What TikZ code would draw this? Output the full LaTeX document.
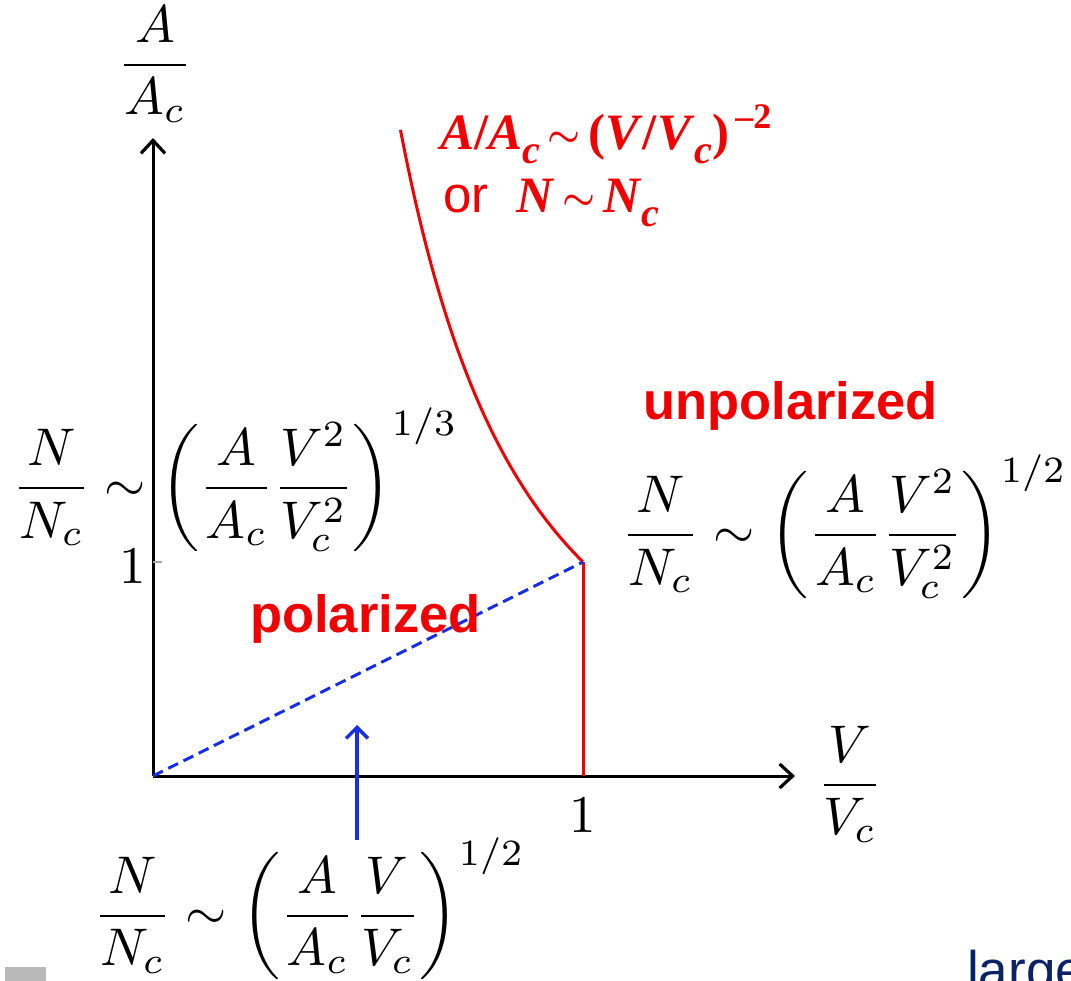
\documentclass[tikz,border=0pt]{standalone}
\usepackage{fontspec}
\usepackage{graphicx}
\usetikzlibrary{arrows.meta}
\newfontfamily\tnr{Liberation Serif}
\newfontfamily\arial{Liberation Sans}
\definecolor{myred}{RGB}{240,0,0}
\definecolor{myblue}{RGB}{25,45,225}
\definecolor{navy}{RGB}{10,35,100}
\newcommand{\subc}{\raisebox{-0.26em}{\fontsize{40}{40}\selectfont\textit{c}}}
\newcommand{\bigsim}{\hspace{0.15em}\raisebox{3pt}{\resizebox{33pt}{!}{$\boldsymbol{\sim}$}}\hspace{0.15em}}
\usepackage{amsmath}
\tikzset{
  axis/.style={line width=3pt,-{Straight Barb[length=13pt,width=24pt,line width=3.2pt]}},
  mathlbl/.style={scale=5.3,inner sep=0pt},
  redlbl/.style={text=myred,inner sep=0pt,font=\arial\bfseries\fontsize{52.5}{60}\selectfont},
  redline/.style={myred,line width=3pt},
  curvelbl/.style={anchor=base west,inner sep=0pt,text=myred,font=\tnr\bfseries\fontsize{51}{56}\selectfont},
}
\begin{document}
\begin{tikzpicture}[x=1pt,y=-1pt]
\useasboundingbox (0,0) rectangle (1071,981);
% key points
\coordinate (O) at (153,776);
\coordinate (ytip) at (153,138);
\coordinate (xtip) at (795,776);
\coordinate (P) at (583,562);
\coordinate (X1) at (583,776);
\coordinate (Y1) at (153,562);
\coordinate (Y1t) at (162,562);
\coordinate (barrS) at (357,840);
\coordinate (barrE) at (357,725);
% axes
\draw[axis] (O) -- (ytip);
\draw[axis] (O) -- (xtip);
\draw[gray!70,line width=1.5pt] (Y1) -- (Y1t);
% curves
\draw[redline] plot[domain=0.5755:1,samples=80,smooth] ({153+430*\x},{776-214/(\x*\x)});
\draw[redline] (P) -- (X1);
\draw[myblue,line width=3pt,dash pattern=on 11pt off 6pt] (O) -- (P);
\draw[myblue,line width=4pt,-{Straight Barb[length=11pt,width=22pt,line width=3.5pt]}] (barrS) -- (barrE);
% axis labels
\node[mathlbl] (alab) at (155,64) {$\displaystyle\frac{A}{A_c}$};
\node[mathlbl] (vlab) at (850,784) {$\displaystyle\frac{V}{V_c}$};
\node[mathlbl,anchor=east] (one-y) at (147,566) {$1$};
\node[mathlbl] (one-x) at (583,815) {$1$};
% formulas
\node[mathlbl,anchor=west] (fl) at (12,480) {$\displaystyle\frac{N}{N_c}\sim\left(\frac{A}{A_c}\frac{V^2}{V_c^2}\right)^{1/3}$};
\node[mathlbl,anchor=west] (fr) at (621,527) {$\displaystyle\frac{N}{N_c}\sim\left(\frac{A}{A_c}\frac{V^2}{V_c^2}\right)^{1/2}$};
\node[mathlbl,anchor=west] (fb) at (93,909) {$\displaystyle\frac{N}{N_c}\sim\left(\frac{A}{A_c}\frac{V}{V_c}\right)^{1/2}$};
% region labels
\node[redlbl,anchor=base west] (pol) at (250,632) {polarized};
\node[redlbl,anchor=base west] (unpol) at (643,420) {unpolarized};
% red curve label
\node[curvelbl] (lab1) at (440,150)
  {\textit{A}/\textit{A}\subc\bigsim(\textit{V}/\textit{V}\subc)\raisebox{0.42em}{\fontsize{36}{36}\selectfont\,\textendash2}};
\node[curvelbl] (lab2) at (443,213)
  {{\arial\mdseries or}\hspace{0.55em}\textit{N}\bigsim\textit{N}\subc};
% footer fragments
\fill[gray!55] (5,967) rectangle (46,981);
\node[anchor=base west,inner sep=0pt,text=navy,font=\arial\fontsize{53}{60}\selectfont] (large) at (967,988) {large};
\end{tikzpicture}
\end{document}
